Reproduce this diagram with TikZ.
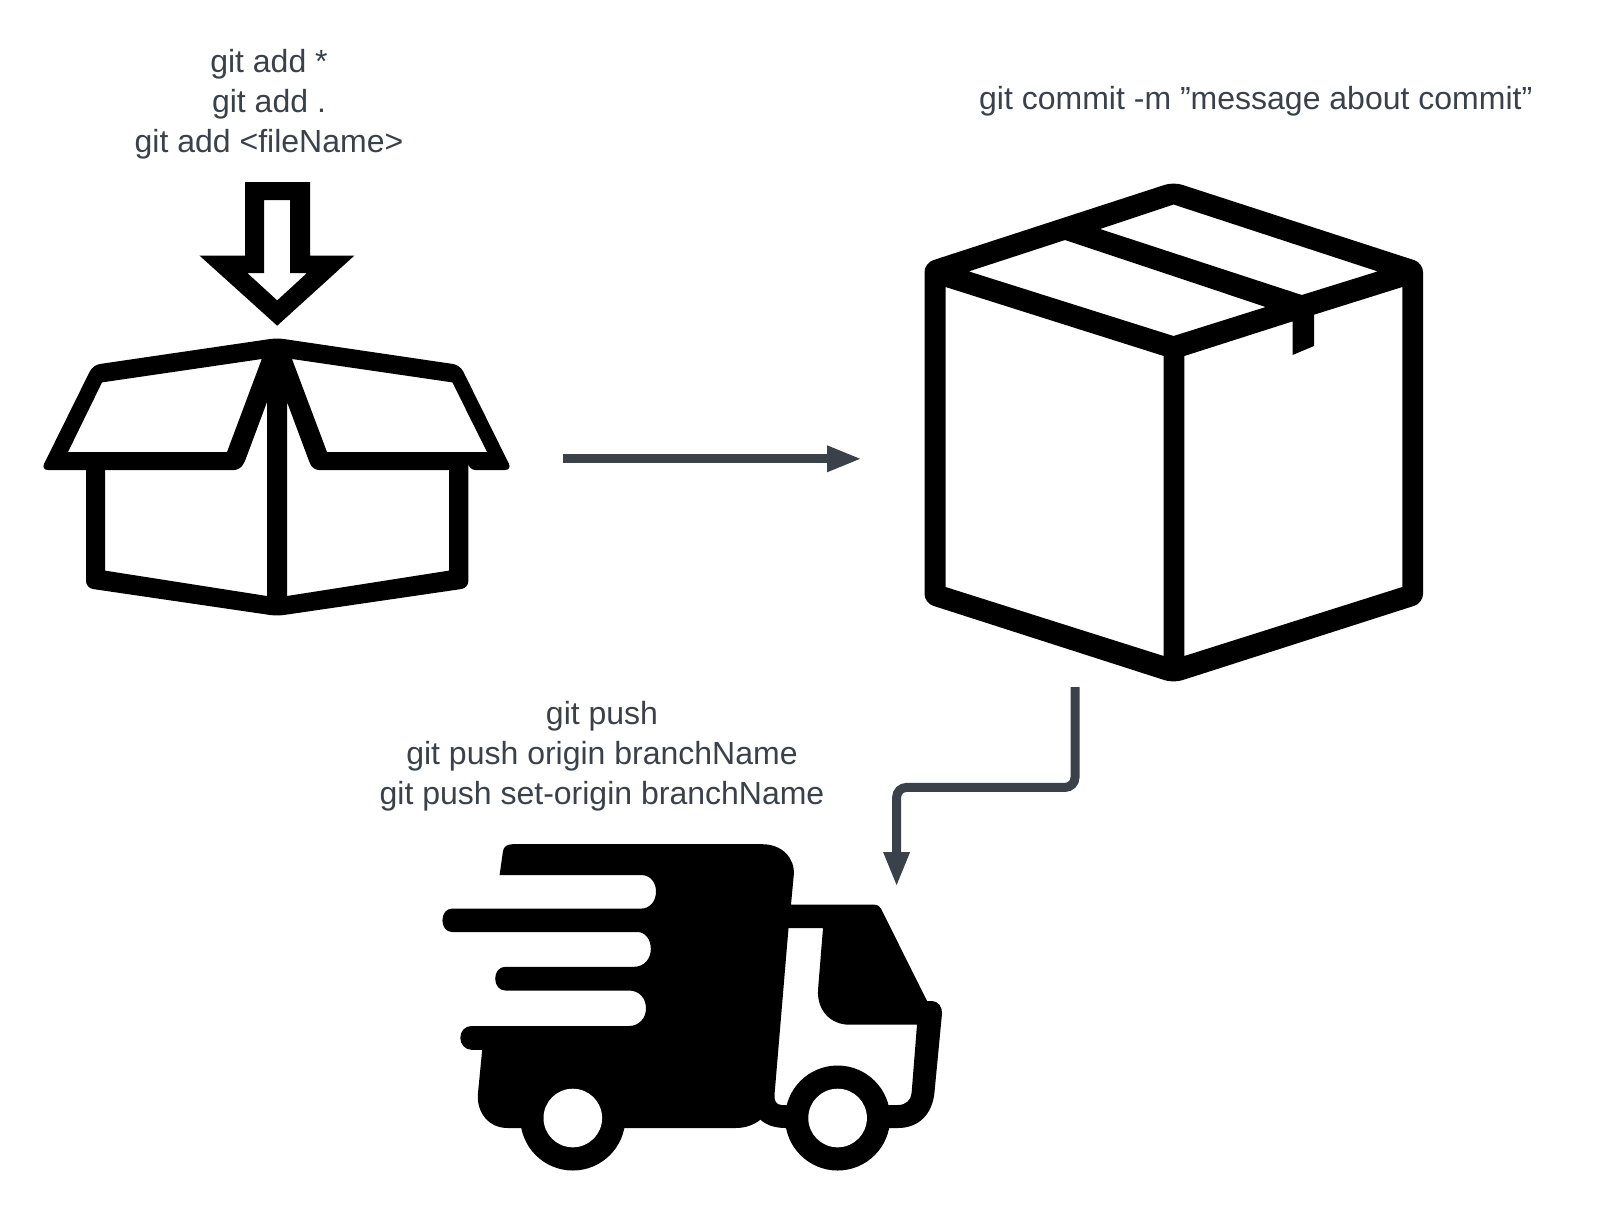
\documentclass[tikz,border=0pt]{standalone}
\usepackage{fontspec}
\setmainfont{Liberation Sans}
\usetikzlibrary{arrows.meta}
\definecolor{slate}{HTML}{3A414A}
\tikzset{
	cmdtext/.style={align=center,text=slate,inner sep=0pt,font=\fontsize{32}{40}\selectfont},
	icon/.style={fill=black,draw=none,even odd rule},
	hole/.style={fill=white,draw=none},
	flow/.style={draw=slate,line width=9pt,-{Triangle[length=35pt,width=24pt]}}
}
\begin{document}
\begin{tikzpicture}[x=1pt,y=-1pt]
		\useasboundingbox (0,0) rectangle (1616,1211);
		% commands
		\node[cmdtext] (addtext) at (269,104) {git add *\\git add .\\git add <fileName>};
		\node[cmdtext] (committext) at (1255.7,101) {git commit -m "message about commit"};
		\node[cmdtext] (pushtext) at (602,756) {git push\\git push origin branchName\\git push set-origin branchName};
		% arrow into the open box
		\fill[icon] (245,182) -- (310,182) -- (310,255.5) -- (354.5,255.5) -- (277.2,325.7) -- (199.4,255.5) -- (245,255.5) -- cycle
			(264,200) -- (264,273) -- (247.3,273) -- (277.2,300.4) -- (307,273) -- (290,273) -- (290,200) -- cycle;
		% open box
		\fill[icon] [rounded corners=7pt] (277,338) -- (460,365) -- (512,470) -- (468.4,470) [sharp corners] -- (468.4,470)
			[rounded corners=7pt] -- (468.4,588) -- (277,616) -- (86,588) -- (86,470) [sharp corners] -- (86,470)
			[rounded corners=7pt] -- (41,470) -- (93,365) -- cycle
			[sharp corners]
			(261.8,359) -- (102,382.4) -- (68,452) -- (227,452) -- cycle
			(292,359) -- (452.4,382.4) -- (487,452) -- (327,452) -- cycle
			(105,470) -- (105,570.6) -- (267,596) -- (267,402) -- (245,461) [rounded corners=6pt] -- (240,470) [sharp corners] -- (234,470) -- cycle
			(287,402) -- (287,596) -- (449,570.6) -- (449,470) -- (320,470) [rounded corners=6pt] -- (313,470) [sharp corners] -- (309,461) -- cycle;
		% closed box
		\fill[icon] [rounded corners=9pt] (1173.5,182) -- (1423,263) -- (1423,603) -- (1173.5,683) -- (924.5,603) -- (924.5,263) -- cycle
			[sharp corners]
			(1173.5,204.5) -- (1377.6,271.4) -- (1301.8,295) -- (1100,229) -- cycle
			(1065,240) -- (1265.7,307) -- (1173.5,336) -- (968.8,271.4) -- cycle
			(945.6,287) -- (1163.7,356) -- (1163.7,656) -- (945.6,587) -- cycle
			(1184.3,356) -- (1292.5,321.4) -- (1292.5,355) -- (1314,346) -- (1314,314.7) -- (1402.3,287) -- (1402.3,587) -- (1184.3,656) -- cycle;
		% truck
		\fill[icon] (512.7,844.2) -- (762.3,844.2) .. controls (782,844.2) and (795,858) .. (793.8,874.7)
			-- (791,904.5) -- (873.8,904.5) .. controls (877,904.5) and (880,906) .. (881,908.6)
			-- (927,1001) -- (932,1001) .. controls (938,1001) and (942.5,1007) .. (942,1013.6)
			-- (934.4,1093) .. controls (932,1115) and (918,1128) .. (898,1128)
			-- (785.6,1128) .. controls (775,1128) and (766,1125) .. (760.4,1119.6)
			.. controls (754,1125) and (745,1128) .. (735.7,1128)
			-- (507.8,1128) .. controls (488,1128) and (477,1112) .. (477.8,1094.8)
			-- (482.2,1049.8) -- (471.5,1049.8) .. controls (465,1049.8) and (460.3,1044) .. (460.3,1038)
			.. controls (460.3,1031) and (465,1026) .. (471.5,1026)
			-- (629,1026) .. controls (639,1026) and (646,1018) .. (646,1008.5)
			.. controls (646,998) and (639,990.5) .. (629,990.5)
			-- (505.4,990.5) .. controls (499,990.5) and (495.2,985) .. (495.2,978.7)
			.. controls (495.2,972) and (499,966.8) .. (505.4,966.8)
			-- (633.9,966.8) .. controls (644,966.8) and (650.8,959) .. (650.8,949)
			.. controls (650.8,939) and (645,932) .. (637.3,932)
			-- (452,932) .. controls (446,932) and (442.4,926.5) .. (442.4,920.4)
			.. controls (442.4,914) and (446,908.6) .. (452,908.6)
			-- (641,908.6) .. controls (650,908.6) and (656,901) .. (656,891.6)
			.. controls (656,882) and (650,875) .. (641,875)
			-- (499.6,875) -- (503,851) .. controls (503.5,847) and (507,844.2) .. (512.7,844.2) -- cycle
			(788.5,928.2) -- (823,928.2) -- (818,990) .. controls (817,1010) and (830,1024.7) .. (849.6,1024.7)
			-- (917,1024.7) -- (911.6,1093) .. controls (911,1100) and (906,1105) .. (898,1105)
			-- (781.7,1105) .. controls (776,1105) and (774,1100) .. (774.5,1094.8) -- cycle;
		\foreach \X in {572.8,837.6}
		{\fill[black] (\X,1118) circle[radius=52.5pt];
			\fill[hole] (\X,1118) circle[radius=29.3pt];}
		% connectors
		\coordinate (boxout) at (563,458.8);
		\coordinate (commitin) at (862,458.8);
		\coordinate (commitout) at (1075,687);
		\coordinate (truckin) at (896.6,887);
		\draw[flow] (boxout) -- (commitin);
		\draw[flow,rounded corners=10pt] (commitout) -- (commitout|-0,787.4) -- (truckin|-0,787.4) -- (truckin);
\end{tikzpicture}
\end{document}
